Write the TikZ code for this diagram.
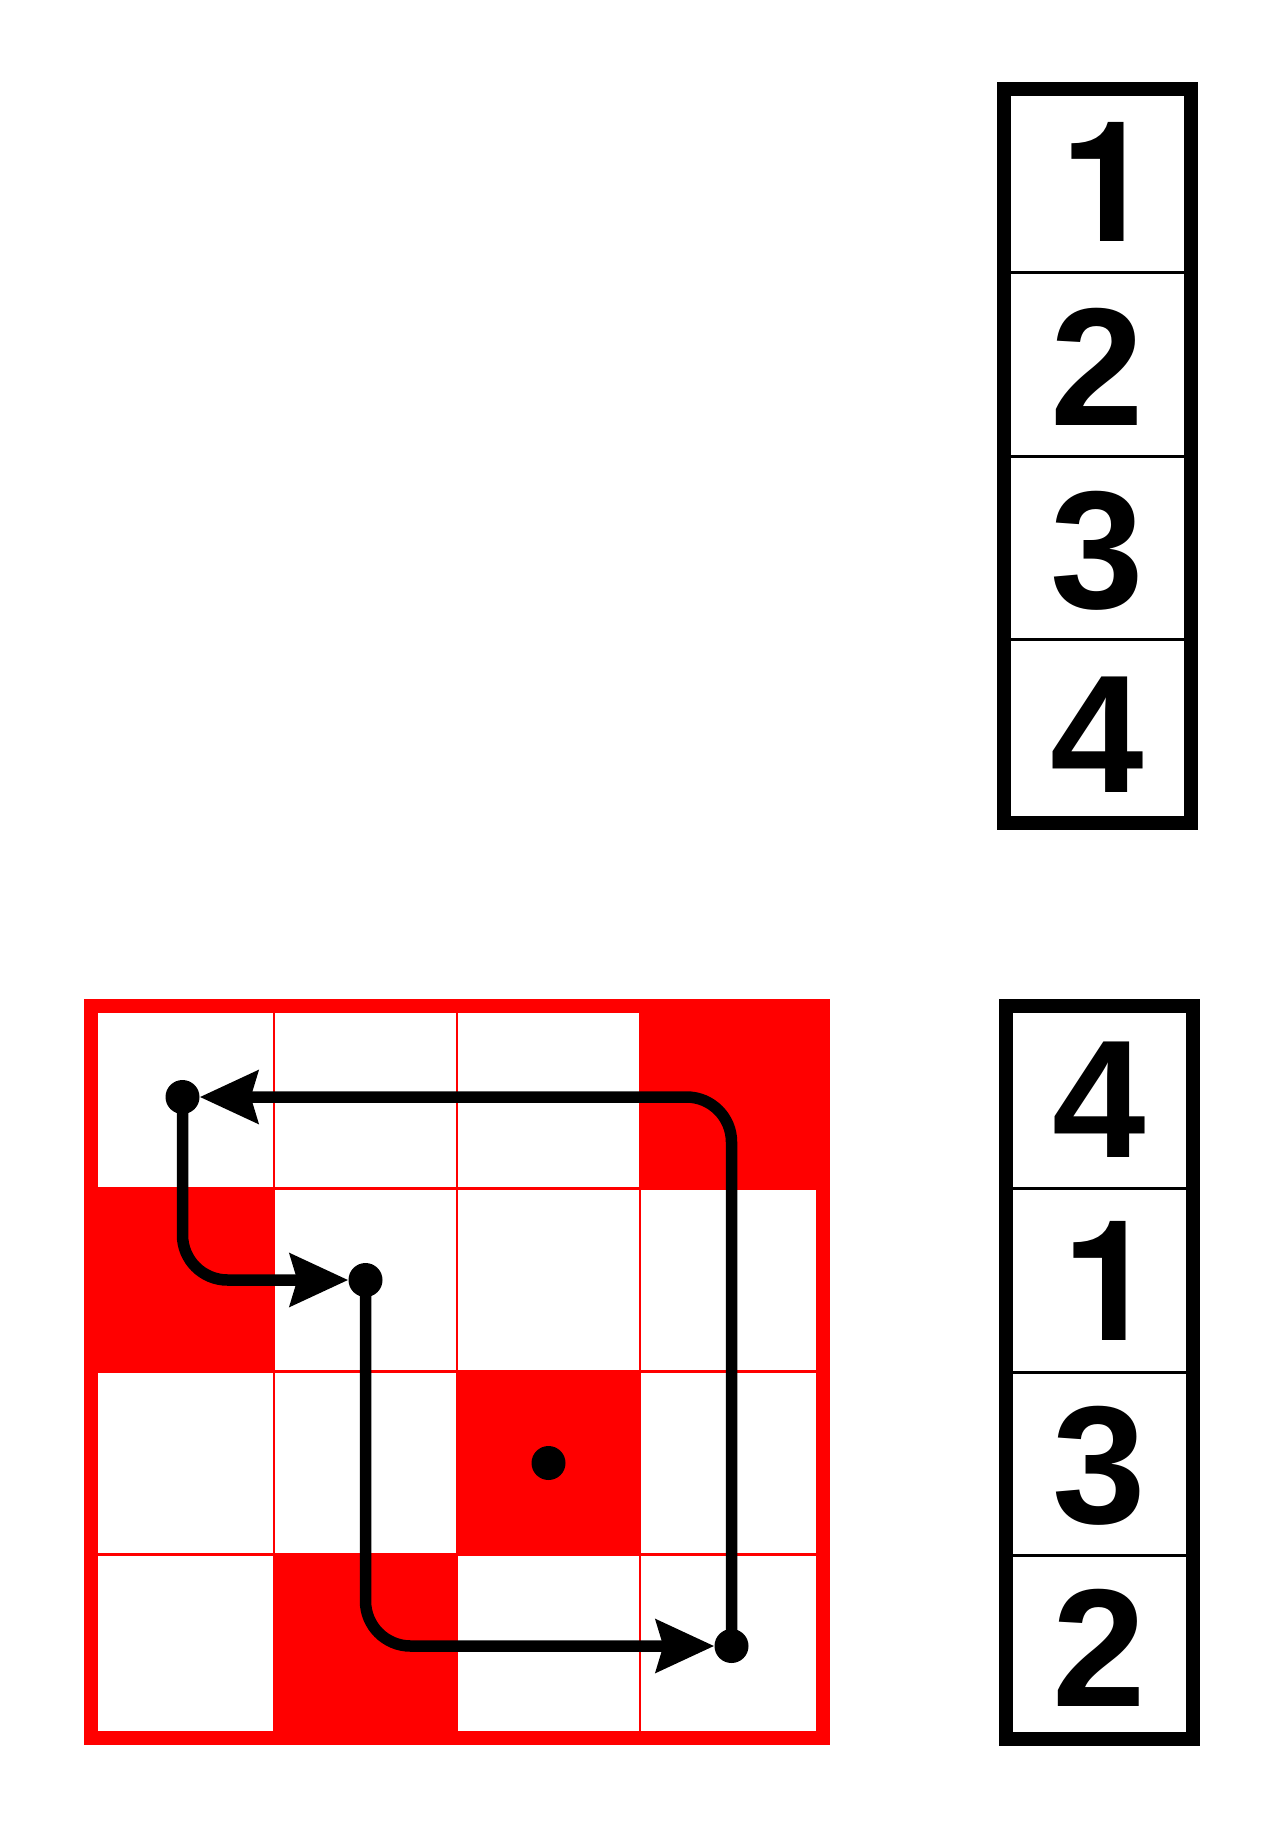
\documentclass[tikz,border=0pt]{standalone}
\usepackage{fontspec}
\setmainfont{Liberation Sans}
\newfontfamily\heros{TeX Gyre Heros}
\usetikzlibrary{arrows.meta}
\definecolor{gridred}{RGB}{255,0,0}
\begin{document}
\begin{tikzpicture}[x=1pt,y=-1pt,
  cellfill/.style={fill=gridred},
  gridline/.style={draw=gridred, line width=2.5pt},
  gridborder/.style={draw=gridred, line width=14pt},
  boxborder/.style={draw=black, line width=14pt},
  boxdivider/.style={draw=black, line width=3pt},
  digit/.style={font=\fontsize{168}{168}\selectfont\bfseries, anchor=base, inner sep=0pt},
  digitone/.style={digit, font=\fontsize{168}{168}\selectfont\heros\bfseries, xshift=10pt},
  pathdot/.style={circle, fill=black, inner sep=0pt, minimum size=34pt},
  route/.style={draw=black, line width=11.5pt, rounded corners=45pt,
    -{Stealth[length=58pt,width=52pt,inset=7pt]}}
]
\useasboundingbox (0,0) rectangle (1280,1827);
\fill[white] (0,0) rectangle (1280,1827);

% ---- grid: red cells
\fill[cellfill] (640,1005.5) rectangle (823,1188.5);
\fill[cellfill] (91,1188.5) rectangle (274,1371.5);
\fill[cellfill] (457,1371.5) rectangle (640,1554.5);
\fill[cellfill] (274,1554.5) rectangle (457,1737.5);
% ---- grid: thin lines
\foreach \x in {274,457,640} \draw[gridline] (\x,1005.5) -- (\x,1737.5);
\foreach \y in {1188.5,1371.5,1554.5} \draw[gridline] (91,\y) -- (823,\y);
% ---- grid: border
\draw[gridborder] (91,1005.5) rectangle (823,1737.5);

% ---- top stack box
\draw[boxdivider] (1004,272.6) -- (1190.5,272.6);
\draw[boxdivider] (1004,456) -- (1190.5,456);
\draw[boxdivider] (1004,639.4) -- (1190.5,639.4);
\draw[boxborder] (1004,89.2) rectangle (1190.5,822.8);
\node[digitone] (t1) at (1097.25,242) {1};
\node[digit] (t2) at (1097.25,425) {2};
\node[digit] (t3) at (1097.25,608.5) {3};
\node[digit] (t4) at (1097.25,792) {4};

% ---- bottom stack box
\draw[boxdivider] (1005.5,1188.8) -- (1192.8,1188.8);
\draw[boxdivider] (1005.5,1372.2) -- (1192.8,1372.2);
\draw[boxdivider] (1005.5,1555.5) -- (1192.8,1555.5);
\draw[boxborder] (1005.5,1005.5) rectangle (1192.8,1738.8);
\node[digit] (b1) at (1099.15,1157) {4};
\node[digitone] (b2) at (1099.15,1340) {1};
\node[digit] (b3) at (1099.15,1523.5) {3};
\node[digit] (b4) at (1099.15,1706.5) {2};

% ---- dots
\node[pathdot] (d00) at (182.5,1097) {};
\node[pathdot] (d11) at (365.5,1280) {};
\node[pathdot] (d22) at (548.5,1463) {};
\node[pathdot] (d33) at (731.5,1646) {};

% ---- routes
\draw[route] (d33.center) |- (d00);
\draw[route] (d00.center) |- (d11);
\draw[route] (d11.center) |- (d33);
\end{tikzpicture}
\end{document}
